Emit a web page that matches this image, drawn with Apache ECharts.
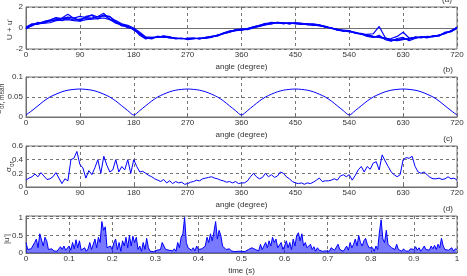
<!DOCTYPE html>
<html><head><meta charset="utf-8">
<script src="https://cdn.jsdelivr.net/npm/echarts@6/dist/echarts.min.js"></script>
<style>html,body{margin:0;padding:0;background:#fff}#c{width:467px;height:276px}</style>
</head><body><div id="c"></div>
<script>
// Panel (a): U + u' for several cycles, sampled every 10 degrees (0..720)
const aCycle1 = [-0.05,0.3,0.4,0.45,0.5,0.7,0.75,0.8,0.7,0.65,0.8,0.85,0.9,0.95,0.8,0.45,0.3,0.1,-0.1,-0.6,-1.0,-0.95,-0.85,-0.8,-0.9,-1.0,-1.0,-1.0,-1.0,-1.0,-0.95,-0.85,-0.7,-0.5,-0.35,-0.2,-0.15,-0.1,0.05,0.2,0.35,0.45,0.5,0.45,0.45,0.45,0.4,0.35,0.35,0.25,0.1,0.0,-0.15,-0.25,-0.3,-0.45,-0.55,-0.7,-0.8,-0.85,-1.0,-1.1,-1.15,-1.05,-1.0,-0.9,-0.9,-0.85,-0.8,-0.7,-0.5,-0.3,0.0];
const aCycle2 = [0.05,0.2,0.5,0.55,0.7,0.75,0.95,1.3,0.9,0.75,1.0,0.9,1.1,1.4,0.8,0.6,0.2,0.2,-0.2,-0.5,-0.9,-1.0,-0.8,-0.85,-0.95,-0.95,-1.05,-0.95,-0.95,-1.05,-0.9,-0.8,-0.75,-0.45,-0.3,-0.25,-0.2,-0.05,0.1,0.25,0.4,0.55,0.45,0.5,0.4,0.5,0.45,0.3,0.3,0.2,0.15,-0.05,-0.1,-0.3,-0.35,-0.4,-0.6,-0.6,-0.55,0.15,-0.9,-1.2,-1.1,-1.0,-1.1,-0.85,-0.95,-0.8,-0.85,-0.65,-0.55,-0.25,0.05];
const aCycle3 = [0.0,0.35,0.45,0.6,0.75,1.0,0.9,1.05,0.95,1.1,1.0,1.25,1.05,1.15,1.1,0.55,0.35,0.0,-0.05,-0.7,-1.05,-0.9,-0.9,-0.75,-0.85,-1.0,-0.95,-1.1,-1.05,-0.95,-1.0,-0.9,-0.65,-0.55,-0.4,-0.15,-0.1,-0.15,0.0,0.15,0.3,0.4,0.55,0.4,0.5,0.4,0.35,0.4,0.4,0.3,0.05,0.05,-0.2,-0.2,-0.25,-0.5,-0.5,-0.75,-0.85,-0.9,-1.05,-1.0,-0.8,-0.4,-0.95,-0.95,-0.85,-0.9,-0.75,-0.75,-0.45,-0.35,-0.05];
const aCycle4 = [-0.1,0.25,0.55,0.45,0.65,0.8,0.9,0.95,0.75,0.85,0.95,0.95,1.05,1.2,0.85,0.55,0.25,0.15,-0.15,-0.55,-0.95,-1.05,-0.8,-0.9,-0.85,-1.05,-1.0,-1.0,-0.95,-1.05,-0.9,-0.85,-0.7,-0.5,-0.3,-0.2,-0.2,-0.1,0.05,0.2,0.35,0.5,0.5,0.45,0.5,0.45,0.4,0.35,0.3,0.25,0.1,-0.05,-0.15,-0.25,-0.35,-0.45,-0.55,-0.65,-0.8,-0.85,-0.95,-1.15,-1.2,-1.1,-1.0,-0.9,-0.9,-0.85,-0.8,-0.7,-0.5,-0.3,0.05];
const aCycle5 = [0.1,0.4,0.35,0.6,0.75,0.95,0.7,1.0,0.95,0.7,1.1,1.2,0.85,1.25,1.05,0.7,0.4,0.25,0.0,-0.4,-0.85,-0.9,-0.9,-0.8,-0.95,-0.95,-1.0,-1.05,-1.0,-0.95,-0.95,-0.8,-0.75,-0.55,-0.4,-0.25,-0.1,-0.05,0.1,0.25,0.45,0.4,0.55,0.5,0.4,0.5,0.45,0.4,0.25,0.3,0.15,0.0,-0.2,-0.3,-0.25,-0.5,-0.6,-0.8,-0.9,-0.7,-1.1,-1.25,-1.0,-0.9,-1.2,-1.0,-0.85,-0.95,-0.75,-0.75,-0.4,-0.35,0.1];
const aStep = 10;

// Panel (b): sigma_or,mean every 10 degrees
const bValues = [0.005,0.016,0.028,0.040,0.050,0.057,0.063,0.067,0.069,0.070,0.069,0.067,0.063,0.057,0.050,0.040,0.028,0.016,0.005,
0.016,0.028,0.040,0.050,0.057,0.063,0.067,0.069,0.070,0.069,0.067,0.063,0.057,0.050,0.040,0.028,0.016,0.005,
0.016,0.028,0.040,0.050,0.057,0.063,0.067,0.069,0.070,0.069,0.067,0.063,0.057,0.050,0.040,0.028,0.016,0.005,
0.016,0.028,0.040,0.050,0.057,0.063,0.067,0.069,0.070,0.069,0.067,0.063,0.057,0.050,0.040,0.028,0.016,0.005];
const bStep = 10;

// Panel (c): sigma_or every 5 degrees
const cValues = [0.10,0.13,0.15,0.19,0.15,0.21,0.16,0.11,0.12,0.15,0.21,0.13,0.05,0.12,0.09,0.40,0.42,0.52,0.33,0.28,
0.13,0.24,0.18,0.28,0.40,0.20,0.45,0.32,0.22,0.25,0.40,0.22,0.30,0.25,0.40,0.20,0.40,0.30,0.22,0.23,
0.20,0.17,0.15,0.12,0.10,0.08,0.11,0.06,0.09,0.05,0.08,0.06,0.07,0.04,0.05,0.07,0.08,0.10,0.09,0.12,
0.13,0.14,0.15,0.13,0.12,0.10,0.09,0.07,0.08,0.06,0.08,0.05,0.06,
0.06,0.09,0.15,0.20,0.15,0.12,0.14,0.20,0.15,0.18,0.14,0.16,0.22,0.20,0.15,0.12,0.08,0.06,0.05,0.06,
0.04,0.06,0.05,0.07,0.10,0.13,0.08,0.09,0.09,0.10,0.12,0.10,0.16,0.18,0.15,0.18,0.10,0.17,0.25,0.30,
0.22,0.30,0.26,0.35,0.37,0.25,0.47,0.38,0.30,0.22,0.18,0.15,0.18,0.40,0.43,0.42,0.45,0.30,0.22,0.20,
0.22,0.18,0.14,0.12,0.12,0.13,0.11,0.12,0.15,0.12,0.13,0.10];
const cStep = 5;

// Panel (d): |u'| every 0.004 s
const dValues = [
0.3,0.1,0.08,0.12,0.1,0.3,0.4,0.15,0.55,0.5,0.2,0.45,0.35,0.1,0.05,0.12,0.06,0.1,0.05,0.08,0.18,0.1,0.2,0.08,0.12,
0.2,0.08,0.3,0.12,0.38,0.15,0.35,0.08,0.1,0.15,0.05,0.12,0.3,0.1,0.25,0.4,0.15,0.45,0.3,0.9,0.65,0.75,0.15,0.1,0.2,
0.1,0.3,0.4,0.1,0.3,0.05,0.35,0.2,0.45,0.15,0.5,0.2,0.48,0.3,0.45,0.1,0.2,0.05,0.3,0.1,0.42,0.15,0.05,0.1,0.04,
0.05,0.08,0.03,0.1,0.3,0.35,0.1,0.05,0.08,0.04,0.06,0.12,0.05,0.3,0.15,0.45,0.55,1.02,0.3,0.15,0.2,0.08,0.15,0.06,0.2,
0.1,0.05,0.12,0.08,0.2,0.45,0.3,0.55,0.35,0.6,0.9,0.4,0.65,0.5,0.2,0.25,0.1,0.05,0.12,0.06,0.1,0.04,0.08,0.05,0.1,
0.05,0.1,0.04,0.08,0.1,0.05,0.15,0.2,0.1,0.15,0.06,0.25,0.1,0.2,0.3,0.15,0.35,0.2,0.45,0.3,0.4,0.15,0.2,0.3,0.1,
0.2,0.35,0.15,0.3,0.1,0.4,0.2,0.5,0.58,0.35,0.55,0.2,0.3,0.15,0.2,0.25,0.1,0.18,0.05,0.15,0.08,0.12,0.05,0.1,0.06,
0.1,0.05,0.15,0.2,0.08,0.12,0.25,0.1,0.15,0.05,0.12,0.2,0.08,0.3,0.15,0.25,0.4,0.2,0.5,0.3,0.2,0.35,0.42,0.25,0.15,
0.1,0.15,0.05,0.2,0.1,0.6,0.95,0.4,0.3,0.65,0.25,0.3,0.15,0.2,0.1,0.25,0.1,0.15,0.05,0.12,0.06,0.1,0.05,0.12,0.08,
0.1,0.18,0.08,0.15,0.05,0.12,0.2,0.1,0.15,0.08,0.2,0.12,0.22,0.1,0.25,0.15,0.42,0.2,0.1,0.15,0.08,0.12,0.15,0.05,0.12,
0.1];
const dStep = 0.004;

const angleTicks = 90;
const timeTicks = 0.1;

const FONT = 'Liberation Sans, Arial, Helvetica, sans-serif';
const BLUE = '#0000ff';
const TXT = '#333';
const BOX = '#707070';
const GRIDC = '#555';

const pairs = (arr, step) => arr.map((v, i) => [+(i * step).toFixed(4), v]);

function xAx(idx, min, max, interval, name) {
  return {
    type: 'value', gridIndex: idx, min: min, max: max, interval: interval,
    name: name, nameLocation: 'middle', nameGap: 14,
    nameTextStyle: {fontSize: 8, color: TXT, fontFamily: FONT},
    axisLine: {show: true, lineStyle: {color: BOX}},
    axisTick: {show: true, inside: true, length: 3, lineStyle: {color: BOX}},
    axisLabel: {fontSize: 8, color: TXT, fontFamily: FONT, margin: 2},
    splitLine: {show: true, lineStyle: {color: GRIDC, type: [3, 3], width: 0.8}}
  };
}
function yAx(idx, min, max, interval, extra) {
  return Object.assign({
    type: 'value', gridIndex: idx, min: min, max: max, interval: interval,
    axisLine: {show: true, lineStyle: {color: BOX}},
    axisTick: {show: true, inside: true, length: 3, lineStyle: {color: BOX}},
    axisLabel: {fontSize: 8, color: TXT, fontFamily: FONT, margin: 3},
    splitLine: {show: true, lineStyle: {color: GRIDC, type: [3, 3], width: 0.8}}
  }, extra || {});
}
function line(idx, data, w) {
  return {type: 'line', xAxisIndex: idx, yAxisIndex: idx, data: data, showSymbol: false,
    symbol: 'none', lineStyle: {color: BLUE, width: w}, itemStyle: {color: BLUE}, silent: true};
}
const gridBase = {left: 26, right: 10, show: true, borderColor: BOX, borderWidth: 1, backgroundColor: '#fff'};

function label(x, y, t) {
  return {type: 'text', x: x, y: y, style: {text: t, fontSize: 8, fill: TXT, fontFamily: FONT, align: 'center', verticalAlign: 'middle'}};
}
function rotLabel(x, y, main, sub) {
  const children = [{type: 'text', x: 0, y: 0, style: {text: main, fontSize: 8, fill: TXT, fontFamily: FONT, align: 'left', verticalAlign: 'middle'}}];
  if (sub) children.push({type: 'text', x: 5, y: 3, style: {text: sub, fontSize: 6.5, fill: TXT, fontFamily: FONT, align: 'left', verticalAlign: 'middle'}});
  return {type: 'group', x: x, y: y, rotation: Math.PI / 2, children: children};
}

const chart = echarts.init(document.getElementById('c'), null, {renderer: 'canvas'});
chart.setOption({
  animation: false,
  backgroundColor: '#fff',
  grid: [
    Object.assign({top: 7, height: 42}, gridBase),
    Object.assign({top: 77, height: 40}, gridBase),
    Object.assign({top: 146, height: 41}, gridBase),
    Object.assign({top: 216, height: 41}, gridBase)
  ],
  xAxis: [
    xAx(0, 0, 720, angleTicks, 'angle (degree)'),
    xAx(1, 0, 720, angleTicks, 'angle (degree)'),
    xAx(2, 0, 720, angleTicks, 'angle (degree)'),
    xAx(3, 0, 1, timeTicks, 'time (s)')
  ],
  yAxis: [
    yAx(0, -2, 2, 2),
    yAx(1, 0, 0.1, 0.05),
    yAx(2, 0, 0.6, 0.2),
    yAx(3, 0, 1.06, 0.5, {axisLabel: {fontSize: 8, color: TXT, fontFamily: FONT, margin: 3, showMaxLabel: false}})
  ],
  series: [
    line(0, pairs(aCycle1, aStep), 1.2),
    line(0, pairs(aCycle2, aStep), 1.2),
    line(0, pairs(aCycle3, aStep), 1.2),
    line(0, pairs(aCycle4, aStep), 1.2),
    line(0, pairs(aCycle5, aStep), 1.2),
    Object.assign(line(1, pairs(bValues, bStep), 1), {smooth: 0.3}),
    line(2, pairs(cValues, cStep), 1),
    Object.assign(line(3, pairs(dValues, dStep), 1), {areaStyle: {color: 'rgba(0,0,255,0.75)', origin: 'start'}})
  ],
  graphic: [
    label(447, 0, '(a)'),
    label(448, 70, '(b)'),
    label(448, 139, '(c)'),
    label(448, 209, '(d)'),
    rotLabel(10, 40, "U + u'"),
    rotLabel(-1, 114, '\u03c3', 'or, mean'),
    rotLabel(9, 172, '\u03c3', 'or'),
    rotLabel(7, 244, "|u'|")
  ]
});
</script>
</body></html>
